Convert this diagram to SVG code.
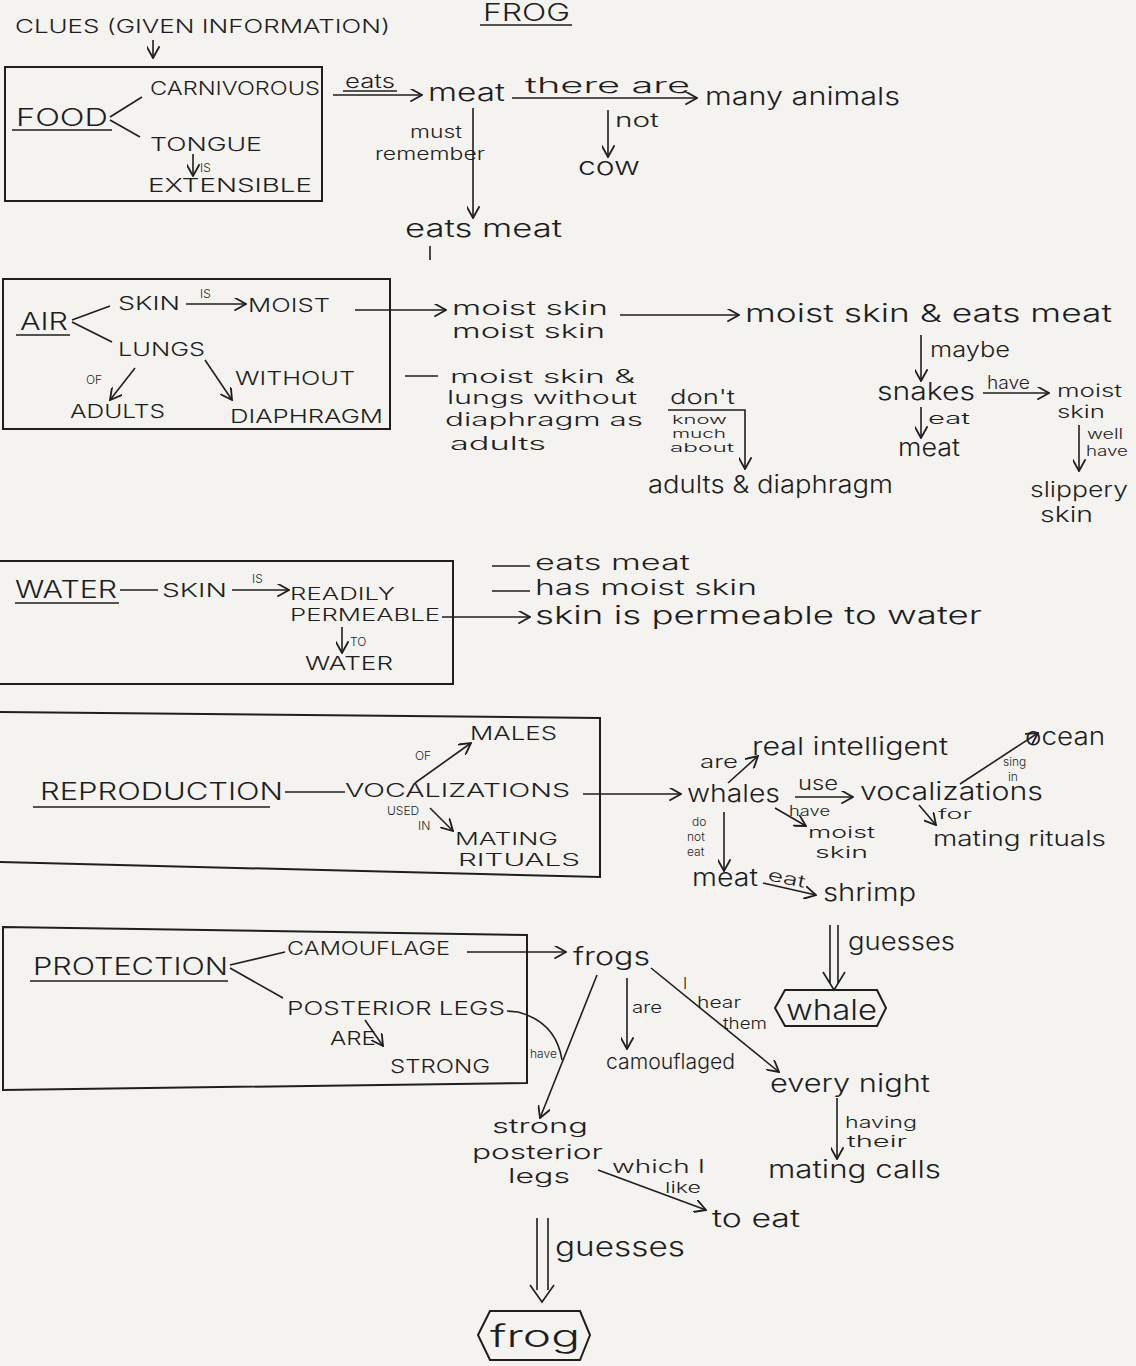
<svg xmlns="http://www.w3.org/2000/svg" width="1136" height="1366" viewBox="0 0 1136 1366">
<style>
text{font-family:"Inter","Lato","Liberation Sans",sans-serif;font-weight:300;fill:#1e1e1e}
.h{font-size:24px}
.c{font-size:19px}
.s{font-size:16px}
.t{font-size:12px}
.box{fill:none;stroke:#1e1e1e;stroke-width:2}
.ln{fill:none;stroke:#1e1e1e;stroke-width:1.6}
.ar{fill:none;stroke:#1e1e1e;stroke-width:1.6;marker-end:url(#ah)}
.ul{stroke:#1e1e1e;stroke-width:1.6}
</style>
<defs>
<marker id="ah" viewBox="0 0 10 10" refX="9" refY="5" markerWidth="13" markerHeight="13" markerUnits="userSpaceOnUse" orient="auto">
<path d="M0,0 L9,5 L0,10" fill="none" stroke="#1e1e1e" stroke-width="1.4"/>
</marker>
</defs>
<rect width="1136" height="1366" fill="#f4f3ef"/>

<g id="title">
<text x="483" y="21" class="h" textLength="87" lengthAdjust="spacingAndGlyphs">FROG</text>
<line class="ul" x1="480" y1="25" x2="572" y2="25"/>
</g>
<g id="clues">
<text x="15" y="33" class="c" textLength="375" lengthAdjust="spacingAndGlyphs">CLUES (GIVEN INFORMATION)</text>
</g>

<g id="food-box">
<rect class="box" x="5" y="67" width="317" height="134"/>
<text x="16" y="126" class="h" textLength="92" lengthAdjust="spacingAndGlyphs">FOOD</text>
<line class="ul" x1="12" y1="130" x2="112" y2="130"/>
<text x="150" y="95" class="c" textLength="170" lengthAdjust="spacingAndGlyphs">CARNIVOROUS</text>
<text x="150" y="151" class="c" textLength="112" lengthAdjust="spacingAndGlyphs">TONGUE</text>
<text x="200" y="172" class="t">IS</text>
<text x="148" y="192" class="c" textLength="164" lengthAdjust="spacingAndGlyphs">EXTENSIBLE</text>
</g>
<g id="meat"><text x="428" y="101" class="h" textLength="77" lengthAdjust="spacingAndGlyphs">meat</text></g>
<g id="many-animals"><text x="705" y="105" class="h" textLength="195" lengthAdjust="spacingAndGlyphs">many animals</text></g>
<g id="cow"><text x="578" y="175" class="h" textLength="62" lengthAdjust="spacingAndGlyphs">cow</text></g>
<g id="eats-meat-1"><text x="405" y="237" class="h" textLength="157" lengthAdjust="spacingAndGlyphs">eats meat</text></g>

<g id="air-box">
<rect class="box" x="3" y="279" width="387" height="150"/>
<text x="20" y="330" class="h" textLength="48" lengthAdjust="spacingAndGlyphs">AIR</text>
<line class="ul" x1="16" y1="335" x2="70" y2="335"/>
<text x="118" y="310" class="c" textLength="62" lengthAdjust="spacingAndGlyphs">SKIN</text>
<text x="200" y="298" class="t">IS</text>
<text x="248" y="312" class="c" textLength="82" lengthAdjust="spacingAndGlyphs">MOIST</text>
<text x="118" y="356" class="c" textLength="87" lengthAdjust="spacingAndGlyphs">LUNGS</text>
<text x="86" y="384" class="t">OF</text>
<text x="235" y="385" class="c" textLength="120" lengthAdjust="spacingAndGlyphs">WITHOUT</text>
<text x="70" y="418" class="c" textLength="95" lengthAdjust="spacingAndGlyphs">ADULTS</text>
<text x="230" y="423" class="c" textLength="153" lengthAdjust="spacingAndGlyphs">DIAPHRAGM</text>
</g>
<g id="moist-skin-2"><text x="452" y="315" class="h" textLength="156" lengthAdjust="spacingAndGlyphs" style="font-size:19px">moist skin</text><text x="452" y="338" class="h" textLength="153" lengthAdjust="spacingAndGlyphs" style="font-size:19px">moist skin</text></g>
<g id="moist-eats"><text x="745" y="322" class="h" textLength="367" lengthAdjust="spacingAndGlyphs">moist skin &amp; eats meat</text></g>
<g id="moist-lungs">
<text x="450" y="383" class="h" textLength="185" lengthAdjust="spacingAndGlyphs" style="font-size:18px">moist skin &amp;</text>
<text x="447" y="404" class="h" textLength="190" lengthAdjust="spacingAndGlyphs" style="font-size:18px">lungs without</text>
<text x="445" y="426" class="h" textLength="198" lengthAdjust="spacingAndGlyphs" style="font-size:18px">diaphragm as</text>
<text x="450" y="450" class="h" textLength="96" lengthAdjust="spacingAndGlyphs" style="font-size:18px">adults</text>
</g>
<g id="adults-diaphragm"><text x="648" y="493" class="h" textLength="245" lengthAdjust="spacingAndGlyphs">adults &amp; diaphragm</text></g>
<g id="snakes"><text x="877" y="400" class="h" textLength="98" lengthAdjust="spacingAndGlyphs">snakes</text></g>
<g id="snake-moist"><text x="1057" y="397" class="s" textLength="65" lengthAdjust="spacingAndGlyphs" style="font-size:17px">moist</text><text x="1057" y="418" class="s" textLength="48" lengthAdjust="spacingAndGlyphs" style="font-size:17px">skin</text></g>
<g id="snake-meat"><text x="898" y="456" class="h" textLength="62" lengthAdjust="spacingAndGlyphs">meat</text></g>
<g id="slippery"><text x="1030" y="497" class="h" textLength="98" lengthAdjust="spacingAndGlyphs" style="font-size:21px">slippery</text><text x="1040" y="522" class="h" textLength="53" lengthAdjust="spacingAndGlyphs" style="font-size:21px">skin</text></g>

<g id="water-box">
<path class="box" d="M0,561 L453,561 L453,684 L0,684"/>
<text x="15" y="598" class="h" textLength="102" lengthAdjust="spacingAndGlyphs">WATER</text>
<line class="ul" x1="15" y1="603" x2="119" y2="603"/>
<text x="162" y="597" class="c" textLength="65" lengthAdjust="spacingAndGlyphs">SKIN</text>
<text x="252" y="583" class="t">IS</text>
<text x="290" y="600" class="c" textLength="105" lengthAdjust="spacingAndGlyphs" style="font-size:17px">READILY</text>
<text x="290" y="621" class="c" textLength="150" lengthAdjust="spacingAndGlyphs" style="font-size:17px">PERMEABLE</text>
<text x="350" y="646" class="t">TO</text>
<text x="305" y="670" class="c" textLength="88" lengthAdjust="spacingAndGlyphs">WATER</text>
</g>
<g id="water-summary">
<text x="535" y="570" class="h" textLength="155" lengthAdjust="spacingAndGlyphs" style="font-size:21px">eats meat</text>
<text x="535" y="595" class="h" textLength="222" lengthAdjust="spacingAndGlyphs" style="font-size:21px">has moist skin</text>
<text x="535" y="624" class="h" textLength="447" lengthAdjust="spacingAndGlyphs">skin is permeable to water</text>
</g>

<g id="repro-box">
<path class="box" d="M0,712 L600,718 L600,877 L0,862"/>
<text x="40" y="800" class="h" textLength="243" lengthAdjust="spacingAndGlyphs">REPRODUCTION</text>
<line class="ul" x1="33" y1="807" x2="270" y2="807"/>
<text x="345" y="797" class="c" textLength="225" lengthAdjust="spacingAndGlyphs">VOCALIZATIONS</text>
<text x="415" y="760" class="t">OF</text>
<text x="470" y="740" class="c" textLength="87" lengthAdjust="spacingAndGlyphs">MALES</text>
<text x="387" y="815" class="t">USED</text>
<text x="418" y="830" class="t">IN</text>
<text x="455" y="845" class="c" textLength="103" lengthAdjust="spacingAndGlyphs" style="font-size:17px">MATING</text>
<text x="458" y="866" class="c" textLength="122" lengthAdjust="spacingAndGlyphs" style="font-size:17px">RITUALS</text>
</g>
<g id="whales"><text x="687" y="802" class="h" textLength="93" lengthAdjust="spacingAndGlyphs">whales</text></g>
<g id="real-intelligent"><text x="752" y="755" class="h" textLength="196" lengthAdjust="spacingAndGlyphs">real intelligent</text></g>
<g id="vocalizations"><text x="860" y="800" class="h" textLength="183" lengthAdjust="spacingAndGlyphs">vocalizations</text></g>
<g id="ocean"><text x="1025" y="745" class="h" textLength="80" lengthAdjust="spacingAndGlyphs">ocean</text></g>
<g id="mating-rituals"><text x="933" y="846" class="h" textLength="173" lengthAdjust="spacingAndGlyphs" style="font-size:22px">mating rituals</text></g>
<g id="whale-moist"><text x="808" y="838" class="s" textLength="67" lengthAdjust="spacingAndGlyphs">moist</text><text x="815" y="858" class="s" textLength="53" lengthAdjust="spacingAndGlyphs">skin</text></g>
<g id="whale-meat"><text x="692" y="886" class="h" textLength="66" lengthAdjust="spacingAndGlyphs">meat</text></g>
<g id="shrimp"><text x="823" y="901" class="h" textLength="93" lengthAdjust="spacingAndGlyphs">shrimp</text></g>
<g id="whale-guess">
<polygon class="box" points="775,1008 785,990 877,990 886,1008 877,1026 785,1026"/>
<text x="786" y="1020" class="h" textLength="91" lengthAdjust="spacingAndGlyphs" style="font-size:28px">whale</text>
</g>

<g id="protection-box">
<path class="box" d="M3,927 L527,935 L527,1083 L3,1090 Z"/>
<text x="33" y="975" class="h" textLength="195" lengthAdjust="spacingAndGlyphs">PROTECTION</text>
<line class="ul" x1="30" y1="981" x2="228" y2="981"/>
<text x="287" y="955" class="c" textLength="163" lengthAdjust="spacingAndGlyphs">CAMOUFLAGE</text>
<text x="287" y="1015" class="c" textLength="218" lengthAdjust="spacingAndGlyphs">POSTERIOR LEGS</text>
<text x="330" y="1045" class="c" textLength="46" lengthAdjust="spacingAndGlyphs">ARE</text>
<text x="390" y="1073" class="c" textLength="100" lengthAdjust="spacingAndGlyphs">STRONG</text>
</g>
<g id="frogs"><text x="573" y="965" class="h" textLength="77" lengthAdjust="spacingAndGlyphs">frogs</text></g>
<g id="camouflaged"><text x="606" y="1069" class="s" textLength="129" lengthAdjust="spacingAndGlyphs" style="font-size:21px">camouflaged</text></g>
<g id="every-night"><text x="770" y="1092" class="h" textLength="160" lengthAdjust="spacingAndGlyphs">every night</text></g>
<g id="mating-calls"><text x="768" y="1178" class="h" textLength="173" lengthAdjust="spacingAndGlyphs">mating calls</text></g>
<g id="strong-legs">
<text x="492" y="1133" class="h" textLength="96" lengthAdjust="spacingAndGlyphs" style="font-size:20px">strong</text>
<text x="472" y="1159" class="h" textLength="131" lengthAdjust="spacingAndGlyphs" style="font-size:20px">posterior</text>
<text x="508" y="1183" class="h" textLength="62" lengthAdjust="spacingAndGlyphs" style="font-size:20px">legs</text>
</g>
<g id="to-eat"><text x="712" y="1227" class="h" textLength="88" lengthAdjust="spacingAndGlyphs">to eat</text></g>
<g id="frog-guess">
<polygon class="box" points="478,1335 490,1311 580,1311 590,1335 580,1360 490,1360"/>
<text x="490" y="1347" class="h" textLength="90" lengthAdjust="spacingAndGlyphs" style="font-size:30px">frog</text>
</g>

<g id="connectors">
<line class="ar" x1="153" y1="40" x2="153" y2="58"/>
<line class="ln" x1="110" y1="117" x2="142" y2="97"/>
<line class="ln" x1="110" y1="120" x2="140" y2="137"/>
<line class="ar" x1="193" y1="154" x2="193" y2="176"/>
<line class="ar" x1="333" y1="95" x2="422" y2="95"/>
<text x="345" y="88" class="s" textLength="50" lengthAdjust="spacingAndGlyphs" style="font-size:19px">eats</text>
<line class="ul" x1="343" y1="91" x2="397" y2="91"/>
<line class="ar" x1="512" y1="98" x2="697" y2="98"/>
<text x="525" y="93" class="s" textLength="165" lengthAdjust="spacingAndGlyphs" style="font-size:21px">there are</text>
<line class="ar" x1="608" y1="110" x2="608" y2="157"/>
<text x="615" y="127" class="s" textLength="44" lengthAdjust="spacingAndGlyphs" style="font-size:19px">not</text>
<line class="ar" x1="473" y1="108" x2="473" y2="218"/>
<text x="410" y="138" class="s" textLength="52" lengthAdjust="spacingAndGlyphs" style="font-size:17px">must</text>
<text x="375" y="160" class="s" textLength="110" lengthAdjust="spacingAndGlyphs" style="font-size:17px">remember</text>
<line class="ln" x1="430" y1="246" x2="430" y2="260"/>

<line class="ln" x1="72" y1="320" x2="110" y2="306"/>
<line class="ln" x1="72" y1="322" x2="112" y2="342"/>
<line class="ar" x1="186" y1="304" x2="246" y2="304"/>
<line class="ar" x1="135" y1="368" x2="110" y2="400"/>
<line class="ar" x1="205" y1="360" x2="232" y2="400"/>
<line class="ar" x1="355" y1="310" x2="446" y2="310"/>
<line class="ar" x1="620" y1="315" x2="739" y2="315"/>
<line class="ln" x1="405" y1="376" x2="438" y2="376"/>
<text x="670" y="404" class="s" textLength="65" lengthAdjust="spacingAndGlyphs" style="font-size:20px">don't</text>
<path class="ar" d="M668,410 L745,410 L745,469"/>
<text x="672" y="424" class="t" textLength="55" lengthAdjust="spacingAndGlyphs">know</text>
<text x="672" y="438" class="t" textLength="54" lengthAdjust="spacingAndGlyphs">much</text>
<text x="670" y="452" class="t" textLength="64" lengthAdjust="spacingAndGlyphs">about</text>
<line class="ar" x1="921" y1="335" x2="921" y2="381"/>
<text x="930" y="357" class="s" textLength="80" lengthAdjust="spacingAndGlyphs" style="font-size:21px">maybe</text>
<line class="ar" x1="983" y1="393" x2="1049" y2="393"/>
<text x="987" y="389" class="s" textLength="43" lengthAdjust="spacingAndGlyphs" style="font-size:18px">have</text>
<line class="ar" x1="921" y1="407" x2="921" y2="438"/>
<text x="928" y="424" class="s" textLength="42" lengthAdjust="spacingAndGlyphs" style="font-size:16px">eat</text>
<line class="ar" x1="1079" y1="425" x2="1079" y2="471"/>
<text x="1087" y="439" class="s" textLength="36" lengthAdjust="spacingAndGlyphs" style="font-size:14px">well</text>
<text x="1086" y="456" class="s" textLength="42" lengthAdjust="spacingAndGlyphs" style="font-size:14px">have</text>

<line class="ln" x1="120" y1="590" x2="158" y2="590"/>
<line class="ar" x1="232" y1="590" x2="289" y2="590"/>
<line class="ar" x1="342" y1="627" x2="342" y2="653"/>
<line class="ar" x1="442" y1="617" x2="530" y2="617"/>
<line class="ln" x1="492" y1="566" x2="530" y2="566"/>
<line class="ln" x1="492" y1="591" x2="530" y2="591"/>

<line class="ln" x1="285" y1="792" x2="345" y2="792"/>
<line class="ar" x1="415" y1="783" x2="471" y2="743"/>
<line class="ar" x1="430" y1="808" x2="453" y2="831"/>
<line class="ar" x1="583" y1="794" x2="681" y2="794"/>
<line class="ar" x1="728" y1="783" x2="758" y2="756"/>
<text x="700" y="768" class="s" textLength="38" lengthAdjust="spacingAndGlyphs" style="font-size:18px">are</text>
<line class="ar" x1="795" y1="797" x2="853" y2="797"/>
<text x="798" y="790" class="s" textLength="40" lengthAdjust="spacingAndGlyphs" style="font-size:19px">use</text>
<line class="ar" x1="960" y1="784" x2="1038" y2="733"/>
<text x="1003" y="766" class="t">sing</text>
<text x="1008" y="781" class="t">in</text>
<line class="ar" x1="919" y1="805" x2="936" y2="825"/>
<text x="938" y="819" class="s" textLength="34" lengthAdjust="spacingAndGlyphs" style="font-size:13px">for</text>
<line class="ar" x1="775" y1="808" x2="806" y2="826"/>
<text x="789" y="816" class="t" textLength="41" lengthAdjust="spacingAndGlyphs" style="font-size:14px">have</text>
<line class="ar" x1="724" y1="812" x2="724" y2="871"/>
<text x="692" y="826" class="t">do</text>
<text x="687" y="841" class="t">not</text>
<text x="687" y="856" class="t">eat</text>
<line class="ar" x1="763" y1="883" x2="816" y2="895"/>
<text x="767" y="880" class="s" transform="rotate(12 767 880)" textLength="38" lengthAdjust="spacingAndGlyphs" style="font-size:17px">eat</text>
<path class="ln" d="M830,925 L830,984 M838,925 L838,984 M823,972 L834,990 L845,972"/>
<text x="848" y="950" class="h" textLength="107" lengthAdjust="spacingAndGlyphs">guesses</text>

<line class="ln" x1="230" y1="965" x2="285" y2="952"/>
<line class="ln" x1="230" y1="968" x2="283" y2="998"/>
<line class="ar" x1="467" y1="952" x2="566" y2="952"/>
<path class="ln" d="M507,1011 L518,1012 Q556,1022 562,1060"/>
<text x="530" y="1058" class="t">have</text>
<line class="ar" x1="365" y1="1020" x2="383" y2="1046"/>
<line class="ar" x1="597" y1="975" x2="540" y2="1118"/>
<line class="ar" x1="627" y1="978" x2="627" y2="1049"/>
<text x="632" y="1013" class="s" textLength="30" lengthAdjust="spacingAndGlyphs">are</text>
<line class="ar" x1="651" y1="968" x2="779" y2="1072"/>
<text x="683" y="989" class="s">I</text>
<text x="697" y="1008" class="s" textLength="44" lengthAdjust="spacingAndGlyphs">hear</text>
<text x="723" y="1029" class="s" textLength="44" lengthAdjust="spacingAndGlyphs">them</text>
<line class="ar" x1="837" y1="1098" x2="837" y2="1159"/>
<text x="845" y="1128" class="s" textLength="72" lengthAdjust="spacingAndGlyphs">having</text>
<text x="847" y="1147" class="s" textLength="60" lengthAdjust="spacingAndGlyphs">their</text>
<line class="ar" x1="598" y1="1170" x2="706" y2="1210"/>
<text x="612" y="1173" class="s" textLength="93" lengthAdjust="spacingAndGlyphs" style="font-size:18px">which I</text>
<text x="665" y="1193" class="s" textLength="36" lengthAdjust="spacingAndGlyphs" style="font-size:15px">like</text>
<path class="ln" d="M537,1218 L537,1290 M548,1218 L548,1290 M530,1285 L542,1302 L554,1285"/>
<text x="555" y="1256" class="h" textLength="130" lengthAdjust="spacingAndGlyphs" style="font-size:27px">guesses</text>
</g>
</svg>
